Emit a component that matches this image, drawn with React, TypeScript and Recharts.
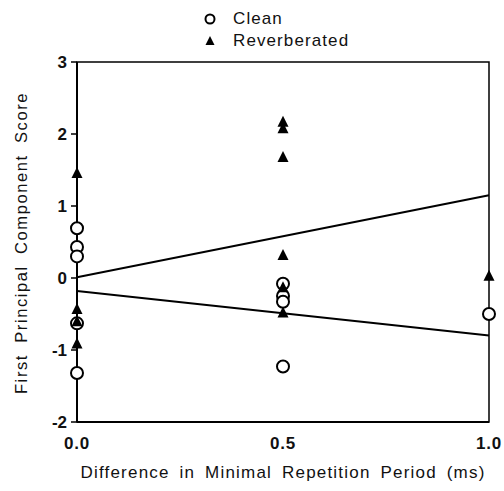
import React from 'react';
import { ScatterChart, Scatter, XAxis, YAxis, ReferenceLine, ReferenceArea } from 'recharts';

// values
const cleanZero = [0.69, 0.43, 0.3, -0.63, -1.32];
const cleanHalf = [-0.08, -0.25, -0.33, -1.23];
const cleanOne = [-0.5];
const reverbZero = [1.46, -0.43, -0.6, -0.91];
const reverbHalf = [2.17, 2.08, 1.68, 0.32, -0.13, -0.48];
const reverbOne = [0.03];

const xTicks = [0, 0.5, 1];
const yTicks = [-2, -1, 0, 1, 2, 3];

// fitted lines: [value at x=0, value at x=1]
const reverbFit = [0.01, 1.15];
const cleanFit = [-0.18, -0.8];

const toPoints = (x: number, ys: number[]) => ys.map((y) => ({ x, y }));

const cleanData = [...toPoints(0, cleanZero), ...toPoints(0.5, cleanHalf), ...toPoints(1, cleanOne)];
const reverbData = [...toPoints(0, reverbZero), ...toPoints(0.5, reverbHalf), ...toPoints(1, reverbOne)];

const FONT = '"Liberation Sans", Arial, sans-serif';

const Circle = (props: any) => (
  <circle cx={props.cx} cy={props.cy} r={6} fill="#fff" stroke="#000" strokeWidth={2} />
);

const Triangle = (props: any) => {
  const { cx, cy } = props;
  return <path d={`M${cx},${cy - 6} L${cx + 5.5},${cy + 5} L${cx - 5.5},${cy + 5} Z`} fill="#000" />;
};

const App: React.FC = () => {
  return (
    <div style={{ position: 'absolute', left: 0, top: 0, width: 504, height: 491, background: '#fff', fontFamily: FONT }}>
      <div style={{ position: 'absolute', left: 201, top: 8, fontSize: 17, lineHeight: '22px', color: '#111', letterSpacing: 1.1 }}>
        <div style={{ display: 'flex', alignItems: 'center' }}>
          <svg width={18} height={14}>
            <circle cx={9} cy={7} r={4.5} fill="#fff" stroke="#000" strokeWidth={2} />
          </svg>
          <span style={{ marginLeft: 14 }}>Clean</span>
        </div>
        <div style={{ display: 'flex', alignItems: 'center' }}>
          <svg width={18} height={14}>
            <path d="M9,2 L13.5,11 L4.5,11 Z" fill="#000" />
          </svg>
          <span style={{ marginLeft: 14 }}>Reverberated</span>
        </div>
      </div>
      <ScatterChart width={504} height={491} margin={{ top: 62, right: 15, bottom: 39, left: 0 }}>
        <XAxis
          type="number"
          dataKey="x"
          domain={[0, 1]}
          ticks={xTicks}
          tickFormatter={(v: number) => v.toFixed(1)}
          axisLine={{ stroke: '#000', strokeWidth: 2 }}
          tickLine={false}
          tickMargin={9}
          height={30}
          tick={{ fill: '#111', fontSize: 17, fontFamily: FONT, fontWeight: 600, letterSpacing: 0.8 }}
          label={(p: any) => (
            <text
              x={283}
              y={472}
              textAnchor="middle"
              dominantBaseline="central"
              fontSize={17}
              fontFamily={FONT}
              fill="#111"
              letterSpacing={1.2}
              wordSpacing={4}
            >
              Difference in Minimal Repetition Period (ms)
            </text>
          )}
        />
        <YAxis
          type="number"
          dataKey="y"
          domain={[-2, 3]}
          ticks={yTicks}
          width={77}
          axisLine={{ stroke: '#000', strokeWidth: 2 }}
          tickLine={{ stroke: '#000', strokeWidth: 1.5 }}
          tickSize={6}
          tickMargin={4}
          tick={{ fill: '#111', fontSize: 17, fontFamily: FONT, fontWeight: 600 }}
          label={(p: any) => (
            <text
              x={21}
              y={243}
              textAnchor="middle"
              dominantBaseline="central"
              transform="rotate(-90 21 243)"
              fontSize={16.5}
              fontFamily={FONT}
              fill="#111"
              letterSpacing={1.6}
              wordSpacing={5}
            >
              First Principal Component Score
            </text>
          )}
        />
        <ReferenceArea x1={0} x2={1} y1={-2} y2={3} fill="none" stroke="#000" strokeWidth={1.5} ifOverflow="visible" />
        <ReferenceLine
          segment={[{ x: 0, y: reverbFit[0] }, { x: 1, y: reverbFit[1] }]}
          stroke="#000"
          strokeWidth={2}
          ifOverflow="visible"
        />
        <ReferenceLine
          segment={[{ x: 0, y: cleanFit[0] }, { x: 1, y: cleanFit[1] }]}
          stroke="#000"
          strokeWidth={2}
          ifOverflow="visible"
        />
        <Scatter data={cleanData} shape={Circle} isAnimationActive={false} />
        <Scatter data={reverbData} shape={Triangle} isAnimationActive={false} />
      </ScatterChart>
    </div>
  );
};

export default App;
